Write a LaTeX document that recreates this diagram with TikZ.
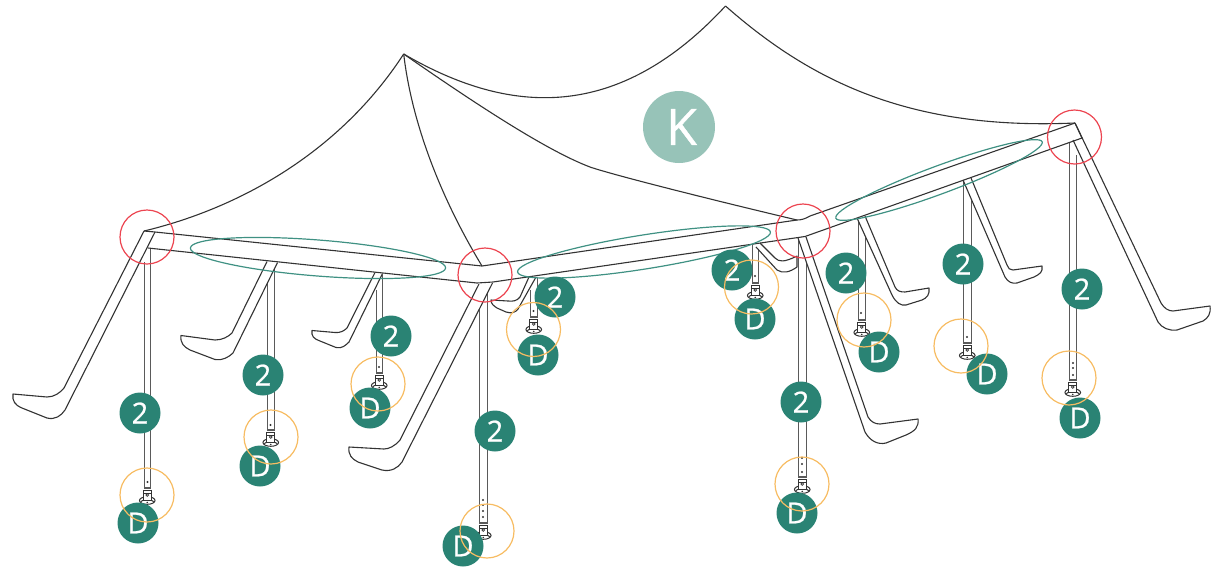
\documentclass[tikz,border=0pt]{standalone}
\usepackage{fontspec}
\setmainfont{Open Sans}
\newfontfamily\badgefont[FakeBold=0.8]{Open Sans}
\definecolor{ink}{HTML}{333333}
\definecolor{polegray}{HTML}{5A5A5A}
\definecolor{teal}{HTML}{2A8374}
\definecolor{lightteal}{HTML}{97C3B8}
\definecolor{ringteal}{HTML}{3F9183}
\definecolor{ringred}{HTML}{EC4450}
\definecolor{ringorange}{HTML}{F7BC62}
\tikzset{
  frameline/.style={draw=ink,line width=1.1pt,line join=round},
  roofline/.style={draw=ink,line width=1.1pt},
  poleline/.style={draw=polegray,line width=1.4pt},
  braceline/.style={draw=ink,line width=1.1pt,fill=white,line join=round},
  footline/.style={draw=ink,line width=1pt},
  tealring/.style={draw=ringteal,line width=1.2pt},
  redring/.style={circle,draw=ringred,line width=1.2pt,minimum size=54pt,inner sep=0pt},
  orangering/.style={circle,draw=ringorange,line width=1.2pt,minimum size=54pt,inner sep=0pt},
  badge/.style={circle,fill=teal,text=white,minimum size=41pt,inner sep=0pt,font=\badgefont\fontsize{29}{29}\selectfont},
  kbadge/.style={circle,fill=lightteal,text=white,minimum size=72pt,inner sep=0pt,font=\badgefont\fontsize{50}{50}\selectfont},
}
% pole: left x, right x, left top y, right top y, bottom y
\newcommand{\tentpole}[5]{%
  \draw[poleline] (#1,#3) -- (#1,#5) -- (#2,#5) -- (#2,#4);
  \pgfmathsetmacro{\cx}{(#1+#2)/2}
  \pgfmathsetmacro{\yA}{#5+2}
  \pgfmathsetmacro{\yC}{#5+12.5}
  \pgfmathsetmacro{\yD}{#5+7}
  \pgfmathsetmacro{\yE}{#5+14.5}
  \draw[footline,fill=white] (\cx,\yC) ellipse [x radius=7.8,y radius=3.8];
  \draw[footline] (\cx-6.5,\yC+1.2) arc[start angle=200,end angle=340,x radius=6.9,y radius=2.8];
  \draw[footline,fill=white] (\cx-3.8,\yA) -- (\cx+3.8,\yA) -- (\cx+3.8,\yC) -- (\cx-3.8,\yC) -- cycle;
  \draw[footline,line width=0.7pt] (\cx-3.8,\yA+3) -- (\cx+3.8,\yA+3);
  \draw[footline,line width=0.7pt] (\cx,\yD) circle [radius=1.4];
  \fill[ink] (\cx,\yE) circle [radius=0.8];
}
\newcommand{\poledot}[2]{\fill[ink] (#1,#2) circle [radius=1.2];}
\begin{document}
\begin{tikzpicture}[x=1pt,y=-1pt]
\useasboundingbox (0,0) rectangle (1214,571);

% poles
\tentpole{144.25}{150.25}{262}{248}{488}
\tentpole{267.25}{274.25}{283}{266}{430}
\tentpole{376.25}{382.25}{290}{275}{373}
\tentpole{479.25}{487.25}{298}{285}{523}
\tentpole{530.25}{537.25}{290}{278}{317}
\tentpole{752.25}{758.25}{245}{245}{283}
\tentpole{798.25}{806.25}{238}{258}{477}
\tentpole{858.25}{865.25}{218}{236}{320}
\tentpole{963.25}{971.25}{180}{200}{343}
\tentpole{1069.25}{1076.25}{142}{155}{380}
\poledot{147.5}{482}
\poledot{270.5}{425}
\poledot{379}{367}
\foreach \y in {500,505,511,517}{\poledot{483}{\y}}
\poledot{533.5}{311}
\poledot{755}{276}
\foreach \y in {458,464,472}{\poledot{802}{\y}}
\poledot{861}{313}
\poledot{967}{337}
\foreach \y in {363,368,375}{\poledot{1073}{\y}}

% back braces
\draw[braceline] (529,277) -- (520,297) .. controls (517,301) and (513,301.5) .. (508,301) -- (491,300)
  .. controls (491,304) and (494,306) .. (497,308) -- (506,312) .. controls (512,314) and (516,312) .. (518,309) -- (536,277);
\draw[braceline] (760,243) -- (775,258) .. controls (779,262) and (784,262.5) .. (797,256)
  -- (797,267) .. controls (790,272) and (783,274) .. (777,270) -- (756,247);

% front braces
\draw[braceline] (144,231) -- (64,388) .. controls (60,393) and (54,397) .. (47,397) -- (13,394)
  .. controls (12,401) and (15,405) .. (22,408) -- (47,418) .. controls (55,420) and (61,416) .. (65,410) -- (155,232);
\draw[braceline] (267,261.5) -- (232,333) .. controls (228,337) and (222,340) .. (215,340) -- (181,335.5)
  .. controls (180,343) and (184,347) .. (190,350) -- (215,359.5) .. controls (222,361) and (229,357) .. (233,353) -- (277.5,262.5);
\draw[braceline] (375,272.5) -- (347,328) .. controls (344,331) and (340,333) .. (335,332.5) -- (312,330.5)
  .. controls (311,336) and (314,339) .. (320,341) -- (336,347.5) .. controls (342,349) and (346,345) .. (349,342) -- (382.5,273.5);
\draw[braceline] (479,284) -- (400,440) .. controls (395,446) and (389,449) .. (384,449) -- (349,447)
  .. controls (348,455) and (352,459) .. (358,462) -- (382,470) .. controls (391,472) and (398,468) .. (402,462) -- (492.5,283);
\draw[braceline] (798,238) -- (865,432) .. controls (870,441) and (878,445) .. (886,443) -- (906,435)
  .. controls (915,431) and (919,427) .. (918,419) -- (880,424) .. controls (875,424) and (871,422) .. (868,417) -- (806,237);
\draw[braceline] (857,218) -- (892,295) .. controls (896,303) and (901,306) .. (906,305) -- (922,300)
  .. controls (927,298) and (930,294) .. (929,288) -- (905,292) .. controls (900,292) and (897,291) .. (895,287) -- (865,216);
\draw[braceline] (963,180) -- (1005,277) .. controls (1008,282) and (1012,284) .. (1017,283) -- (1034,277)
  .. controls (1040,274) and (1043,272) .. (1042,266) -- (1013,270) .. controls (1010,270.5) and (1008,268) .. (1007,265) -- (971,178);
\draw[braceline] (1073,140) -- (1158,322) .. controls (1162,328) and (1169,331) .. (1177,330) -- (1203,321)
  .. controls (1208,318) and (1211,314) .. (1210,306) -- (1173,311) .. controls (1168,311) and (1164,308) .. (1161,303) -- (1075,123);

% ground frame
\draw[frameline] (144,231) -- (155,232) -- (482,266) -- (797,220) .. controls (801,220) and (805,219) .. (810,216) -- (1075,123);
\draw[frameline] (148,248) -- (477,283) -- (493,282) -- (805,236.5) -- (1082,138) -- (1075,123);

% roof
\coordinate (apexa) at (403.7,54);
\coordinate (apexb) at (725.5,6);
\coordinate (cornera) at (144,231);
\coordinate (cornerb) at (482,266);
\coordinate (cornerc) at (797,220);
\coordinate (cornerd) at (1075,123);
\draw[roofline] (cornera) .. controls (240,208) and (340,152) .. (apexa);
\draw[roofline] (apexa) .. controls (412,125) and (442,200) .. (cornerb);
\draw[roofline] (apexa) .. controls (470,100) and (545,150) .. (590,167) .. controls (610,174) and (700,197) .. (cornerc);
\draw[roofline] (apexa) .. controls (510,116) and (618,122) .. (apexb);
\draw[roofline] (apexb) .. controls (815,85) and (915,130) .. (cornerd);

% ellipses
\draw[tealring,rotate around={-4.5:(318,258)}] (318,258) ellipse [x radius=128,y radius=18];
\draw[tealring,rotate around={9:(644,252)}] (644,252) ellipse [x radius=128,y radius=17];
\draw[tealring,rotate around={20.3:(939,180)}] (939,180) ellipse [x radius=110,y radius=14];

% K badge
\node[kbadge] (kb) at (679,127) {\hspace*{5pt}K};

% number and letter badges
\node[badge] (n1) at (140,413) {2};
\node[badge] (n2) at (263,375) {2};
\node[badge] (n3) at (391,336) {2};
\node[badge] (n4) at (495,431) {2};
\node[badge] (n5) at (555,297) {2};
\node[badge] (n6) at (732,270) {2};
\node[badge] (n7) at (801,402) {2};
\node[badge] (n8) at (846,273) {2};
\node[badge] (n9) at (963,264) {2};
\node[badge] (n10) at (1082,289) {2};
\node[badge] (d1) at (138,523) {D};
\node[badge] (d2) at (260,466) {D};
\node[badge] (d3) at (370,408) {D};
\node[badge] (d4) at (463,546) {D};
\node[badge] (d5) at (538,355) {D};
\node[badge] (d6) at (755,319) {D};
\node[badge] (d7) at (797,513) {D};
\node[badge] (d8) at (879,352) {D};
\node[badge] (d9) at (987,374) {D};
\node[badge] (d10) at (1080,418) {D};

% rings
\node[orangering] (o1) at (147,495) {};
\node[orangering] (o2) at (271,437) {};
\node[orangering] (o3) at (378,384) {};
\node[orangering] (o4) at (487,531) {};
\node[orangering] (o5) at (533.5,329.5) {};
\node[orangering] (o6) at (751.5,287) {};
\node[orangering] (o7) at (802,484) {};
\node[orangering] (o8) at (864,320) {};
\node[orangering] (o9) at (961,346) {};
\node[orangering] (o10) at (1069,378) {};
\node[redring] (r1) at (147,237) {};
\node[redring] (r2) at (485,275) {};
\node[redring] (r3) at (803,231) {};
\node[redring] (r4) at (1074.5,137) {};
\end{tikzpicture}
\end{document}
